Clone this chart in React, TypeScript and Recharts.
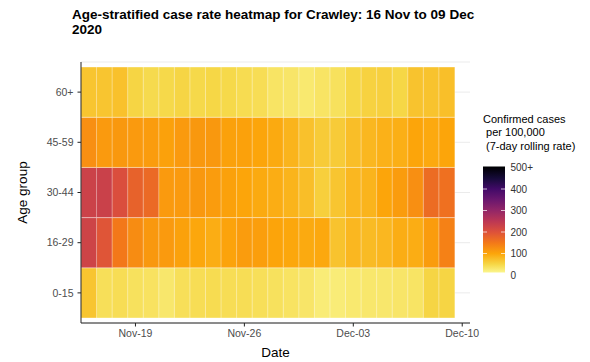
import React from 'react';
import { BarChart, Bar, XAxis, YAxis, CartesianGrid, Cell } from 'recharts';

const dates = [
  'Nov-16', 'Nov-17', 'Nov-18', 'Nov-19', 'Nov-20', 'Nov-21', 'Nov-22', 'Nov-23',
  'Nov-24', 'Nov-25', 'Nov-26', 'Nov-27', 'Nov-28', 'Nov-29', 'Nov-30', 'Dec-01',
  'Dec-02', 'Dec-03', 'Dec-04', 'Dec-05', 'Dec-06', 'Dec-07', 'Dec-08', 'Dec-09',
];
const padDate = 'Dec-10';
const tickDates = ['Nov-19', 'Nov-26', 'Dec-03', 'Dec-10'];
const ageGroups = ['0-15', '16-29', '30-44', '45-59', '60+'];

const rate0to15 = [68, 40, 42, 38, 36, 30, 40, 42, 44, 42, 42, 40, 38, 35, 32, 24, 24, 28, 30, 30, 32, 34, 52, 52];
const rate16to29 = [225, 195, 150, 128, 115, 112, 105, 98, 92, 102, 110, 108, 101, 98, 95, 97, 70, 82, 78, 82, 92, 92, 110, 140];
const rate30to44 = [228, 230, 205, 178, 168, 112, 112, 114, 110, 105, 100, 95, 92, 85, 75, 58, 68, 82, 85, 100, 110, 125, 165, 160];
const rate45to59 = [125, 112, 115, 112, 110, 105, 112, 115, 115, 105, 104, 100, 95, 85, 72, 62, 62, 75, 82, 88, 90, 100, 96, 100];
const rate60plus = [68, 68, 72, 52, 46, 48, 52, 48, 50, 48, 44, 42, 34, 32, 28, 34, 38, 50, 55, 57, 50, 70, 70, 74];

const seriesList = [rate0to15, rate16to29, rate30to44, rate45to59, rate60plus];
const legendBreaks = [0, 100, 200, 300, 400, 500];
const legendLabels = ['0', '100', '200', '300', '400', '500+'];

const infernoStops = ['#000004', '#160B39', '#420A68', '#6A176E', '#932667', '#BC3754', '#DD513A', '#F37819', '#FCA50A', '#F6D746', '#FCFFA4'];

function hexToRgb(h: string) {
  return [parseInt(h.slice(1, 3), 16), parseInt(h.slice(3, 5), 16), parseInt(h.slice(5, 7), 16)];
}
function rateColor(v: number) {
  const t = 1 - Math.max(0, Math.min(1, v / 500));
  const pos = t * (infernoStops.length - 1);
  const i = Math.min(infernoStops.length - 2, Math.floor(pos));
  const f = pos - i;
  const a = hexToRgb(infernoStops[i]);
  const b = hexToRgb(infernoStops[i + 1]);
  const c = a.map((x, k) => Math.round(x + (b[k] - x) * f));
  return `rgb(${c[0]},${c[1]},${c[2]})`;
}

const rows: any[] = dates.map((d) => {
  const r: any = { date: d };
  seriesList.forEach((_, k) => { r['g' + k] = 1; });
  return r;
});
rows.push({ date: padDate });

const W = 590;
const H = 362;
const font = 'Liberation Sans, Arial, sans-serif';

// legend geometry
const barX = 483;
const barW = 22;
const barTop = 166.5;
const barBottom = 272.5;
const legY = (v: number) => 275 - v * 0.215;

export default function App() {
  return (
    <div style={{ position: 'absolute', left: 0, top: 0, width: W, height: H, background: '#fff' }}>
      <BarChart
        width={W}
        height={H}
        data={rows}
        margin={{ top: 62, right: 120, bottom: 9, left: 20 }}
        barCategoryGap={0}
        barGap={0}
      >
        <CartesianGrid horizontal={true} vertical={false} stroke="#ebebeb" strokeWidth={1} />
        <XAxis
          dataKey="date"
          type="category"
          ticks={tickDates}
          interval={0}
          height={30}
          tickSize={3.5}
          tickMargin={3}
          axisLine={{ stroke: '#222', strokeWidth: 1 }}
          tickLine={{ stroke: '#222', strokeWidth: 1 }}
          tick={{ fill: '#4d4d4d', fontSize: 10.5, fontFamily: font }}
        />
        <YAxis
          type="number"
          domain={[-0.1, 5.1]}
          allowDataOverflow={true}
          ticks={[0.5, 1.5, 2.5, 3.5, 4.5]}
          tickFormatter={(v: number) => ageGroups[Math.floor(v)]}
          width={61}
          tickSize={3.5}
          tickMargin={4}
          axisLine={{ stroke: '#222', strokeWidth: 1 }}
          tickLine={{ stroke: '#222', strokeWidth: 1 }}
          tick={{ fill: '#4d4d4d', fontSize: 10.5, fontFamily: font }}
        />
        {seriesList.map((s, k) => (
          <Bar
            key={k}
            dataKey={'g' + k}
            stackId="tiles"
            isAnimationActive={false}
            stroke="#ffffff"
            strokeOpacity={0.35}
            strokeWidth={1}
          >
            {rows.map((r, i) => (
              <Cell key={i} fill={i < s.length ? rateColor(s[i]) : 'none'} />
            ))}
          </Bar>
        ))}
      </BarChart>
      <svg
        width={W}
        height={H}
        style={{ position: 'absolute', left: 0, top: 0, pointerEvents: 'none' }}
      >
        <defs>
          <linearGradient id="infernoBar" gradientUnits="userSpaceOnUse" x1={0} y1={legY(0)} x2={0} y2={legY(500)}>
            {infernoStops.slice().reverse().map((c, i) => (
              <stop key={i} offset={i / (infernoStops.length - 1)} stopColor={c} />
            ))}
          </linearGradient>
        </defs>
        <text x={72} y={19} fontFamily={font} fontWeight="bold" fontSize={13.5} fill="#000">
          Age-stratified case rate heatmap for Crawley: 16 Nov to 09 Dec
        </text>
        <text x={72} y={34} fontFamily={font} fontWeight="bold" fontSize={13.5} fill="#000">
          2020
        </text>
        <text x={275.5} y={357} textAnchor="middle" fontFamily={font} fontSize={13.5} fill="#000">
          Date
        </text>
        <text
          x={0}
          y={0}
          transform="translate(26.5,192.5) rotate(-90)"
          textAnchor="middle"
          fontFamily={font}
          fontSize={13.5}
          fill="#000"
        >
          Age group
        </text>
        <text x={483} y={122.5} fontFamily={font} fontSize={11} fill="#000">Confirmed cases</text>
        <text x={483} y={136} fontFamily={font} fontSize={11} fill="#000" xmlSpace="preserve"> per 100,000</text>
        <text x={483} y={149.5} fontFamily={font} fontSize={11} fill="#000" xmlSpace="preserve"> (7-day rolling rate)</text>
        <rect x={barX} y={barTop} width={barW} height={barBottom - barTop} fill="url(#infernoBar)" />
        {legendBreaks.map((b, i) => (
          <g key={i}>
            {b > 0 && b < 500 && (
              <>
                <line x1={barX} x2={barX + 4} y1={legY(b)} y2={legY(b)} stroke="#fff" strokeOpacity={0.7} />
                <line x1={barX + barW - 4} x2={barX + barW} y1={legY(b)} y2={legY(b)} stroke="#fff" strokeOpacity={0.7} />
              </>
            )}
            <text x={510.5} y={legY(b) + 3.6} fontFamily={font} fontSize={10} fill="#333">
              {legendLabels[i]}
            </text>
          </g>
        ))}
      </svg>
    </div>
  );
}
